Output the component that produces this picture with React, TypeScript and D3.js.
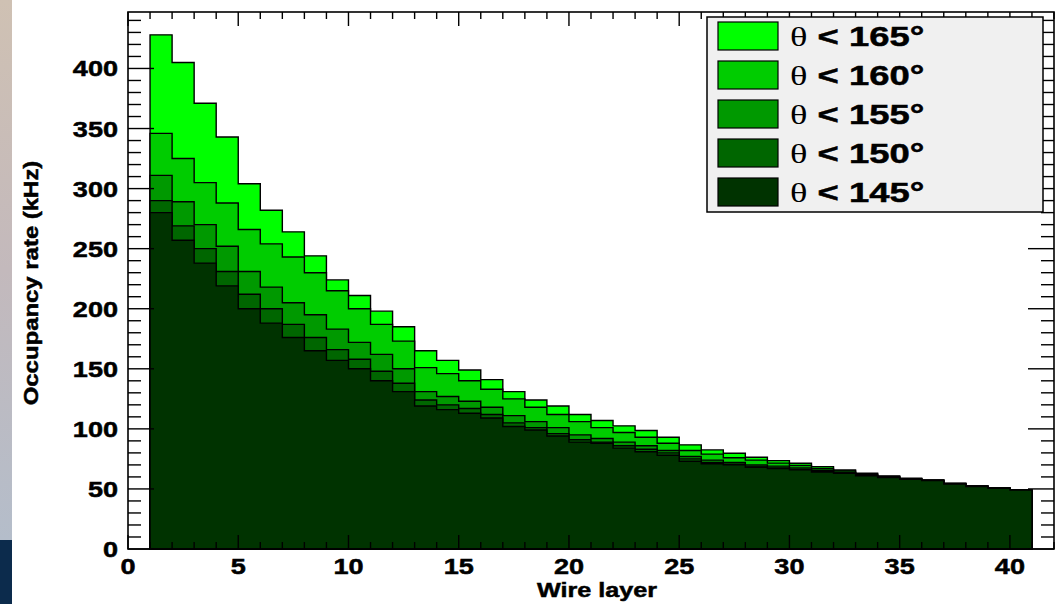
import React from "react";
import * as d3 from "d3";

// Wire layer bins (each bin spans [layer, layer+1])
const wireLayers = [1,2,3,4,5,6,7,8,9,10,11,12,13,14,15,16,17,18,19,20,21,22,23,24,25,26,27,28,29,30,31,32,33,34,35,36,37,38,39,40];

// Occupancy rate (kHz) for each theta cut
const theta165 = [428,405,371,343,304,282,264,244,224,211,198,185,165,157,149,141,131,124,119,112,107,102.5,98.6,93,86.7,82.5,79.7,76.4,73.6,71.4,68.6,65.8,63,60.8,58.9,57.5,54.7,52.5,51,49.2];
const theta160 = [346,325,305,288,266,254,243,230,215,200,187,173,151,146,140,133,125,118,112,106,101,97,93,88,82,79,76,74,71.5,69.5,67,65,62.5,60.4,58.6,57.3,54.5,52.4,50.9,49.1];
const theta155 = [311,289,270,252,231,218,205,195,183,172,162,150,131,127,123,118,111,106,101,95,92,89,86,82,77,74,72,70,69,67.5,65.5,64,61.8,60,58.3,57.1,54.3,52.2,50.7,49];
const theta150 = [290,269,250,231,212,200,187,176,166,158,148,138,124,120,117,112,105,101,96,91,89,86,83,80,75,72,70.5,69,67.5,66.5,64.5,63.3,61.3,59.7,58.1,57,54.1,52.1,50.6,49];
const theta145 = [280,257,238,219,200,188,176,165,157,150,140,131,119,116,113,109,102,99,94,89,88,84,81,78,73,71,70,68,67,66,64,63,61,59.5,58,57,54,52,50.5,49];

const seriesLabels = ["\u03b8 < 165\u00b0", "\u03b8 < 160\u00b0", "\u03b8 < 155\u00b0", "\u03b8 < 150\u00b0", "\u03b8 < 145\u00b0"];
const seriesValues = [theta165, theta160, theta155, theta150, theta145];
const seriesColors = ["#00ff00", "#00cc00", "#009900", "#006600", "#003300"];

const xTickLabels = [0, 5, 10, 15, 20, 25, 30, 35, 40];
const yTickLabels = [0, 50, 100, 150, 200, 250, 300, 350, 400];

const W = 1058, H = 604;
const FONT = "'Liberation Sans', Arial, Helvetica, sans-serif";

function SText(props: any) {
  const { x, y, sx = 1.23, rotate = 0, anchor = "start", size = 22, weight = "bold", children, family = FONT } = props;
  return (
    <text
      transform={`translate(${x},${y}) rotate(${rotate}) scale(${sx},1)`}
      textAnchor={anchor}
      fontSize={size}
      fontWeight={weight}
      fontFamily={family}
      fill="#000"
      stroke="#000"
      strokeWidth={0.5}
    >
      {children}
    </text>
  );
}

export default function App() {
  const x = d3.scaleLinear().domain([0, 42]).range([128, 1054]);
  const y = d3.scaleLinear().domain([0, 447]).range([549, 12]);
  const [x0, x1] = x.range();
  const [yb, yt] = y.range();

  const stepPath = (vals: number[]) => {
    const pts: [number, number][] = [[x(wireLayers[0]), y(0)]];
    vals.forEach((v, i) => {
      pts.push([x(wireLayers[i]), y(v)]);
      pts.push([x(wireLayers[i] + 1), y(v)]);
    });
    pts.push([x(wireLayers[wireLayers.length - 1] + 1), y(0)]);
    return d3.line()(pts) + "Z";
  };

  const yMinor = d3.range(0, 447, 10);
  const xMinor = d3.range(0, 43, 1);

  // legend geometry
  const lgX = 707, lgY = 17, lgW = 336, lgH = 195;
  const rowH = 39;

  return (
    <svg width={W} height={H} style={{ display: "block", position: "absolute", left: 0, top: 0 }}>
      <defs>
        <linearGradient id="strip" x1="0" y1="0" x2="0" y2="1">
          <stop offset="0" stopColor="#cfc1b3" />
          <stop offset="0.5" stopColor="#c3b9bc" />
          <stop offset="1" stopColor="#b4bdca" />
        </linearGradient>
      </defs>
      <rect x={0} y={0} width={W} height={H} fill="#ffffff" />
      <rect x={0} y={0} width={12} height={540} fill="url(#strip)" />
      <rect x={0} y={540} width={12} height={64} fill="#0c2b4c" />

      {/* histograms */}
      {seriesValues.map((vals, i) => (
        <path key={i} d={stepPath(vals)} fill={seriesColors[i]} stroke="#000" strokeWidth={1.4} strokeLinejoin="miter" />
      ))}

      {/* frame */}
      <rect x={x0} y={yt} width={x1 - x0} height={yb - yt} fill="none" stroke="#000" strokeWidth={1.6} />

      {/* y ticks left & right */}
      {yMinor.map((v) => {
        const major = v % 50 === 0;
        const len = major ? 26 : 13;
        return (
          <g key={"yt" + v}>
            <line x1={x0} x2={x0 + len} y1={y(v)} y2={y(v)} stroke="#000" strokeWidth={1.4} />
            <line x1={x1} x2={x1 - len} y1={y(v)} y2={y(v)} stroke="#000" strokeWidth={1.4} />
          </g>
        );
      })}
      {/* x ticks bottom & top */}
      {xMinor.map((v) => {
        const major = v % 5 === 0;
        const len = major ? 14 : 7;
        return (
          <g key={"xt" + v}>
            <line x1={x(v)} x2={x(v)} y1={yb} y2={yb - len} stroke="#000" strokeWidth={1.4} />
            <line x1={x(v)} x2={x(v)} y1={yt} y2={yt + len} stroke="#000" strokeWidth={1.4} />
          </g>
        );
      })}

      {/* y tick labels */}
      {yTickLabels.map((v) => (
        <SText key={"yl" + v} x={118} y={y(v) + 8} anchor="end">{v}</SText>
      ))}
      {/* x tick labels */}
      {xTickLabels.map((v) => (
        <SText key={"xl" + v} x={x(v)} y={574} anchor="middle">{v}</SText>
      ))}

      {/* axis titles */}
      <SText x={(x0 + x1) / 2 + 6} y={597} anchor="middle" size={21} sx={1.2}>Wire layer</SText>
      <SText x={38} y={283} rotate={-90} anchor="middle" size={21} sx={1.14}>Occupancy rate (kHz)</SText>

      {/* legend */}
      <rect x={lgX} y={lgY} width={lgW} height={lgH} fill="#f0f0f0" stroke="#000" strokeWidth={1.5} />
      {seriesLabels.map((lab, i) => {
        const ry = lgY + 5 + i * rowH;
        const parts = lab.split(" ");
        return (
          <g key={"lg" + i}>
            <rect x={718} y={ry} width={60} height={28} fill={seriesColors[i]} stroke="#000" strokeWidth={1.2} />
            <text
              transform={`translate(790,${ry + 24}) scale(1.3,1)`}
              fontSize={28}
              fontFamily={FONT}
              fontWeight="bold"
              fill="#000"
            >
              <tspan fontFamily="'Liberation Serif', 'Times New Roman', serif" fontWeight="normal">{parts[0]}</tspan>
              <tspan stroke="#000" strokeWidth={0.5}> {parts[1]} {parts[2]}</tspan>
            </text>
          </g>
        );
      })}
    </svg>
  );
}
